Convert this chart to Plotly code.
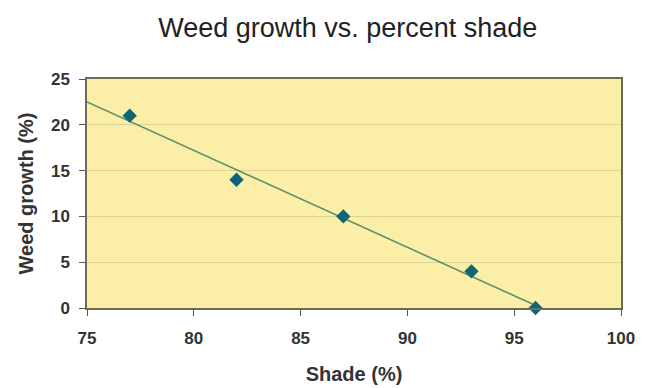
import numpy as np
import plotly.graph_objects as go

# Measured weed growth at each level of shade
shade_pct = [77, 82, 87, 93, 96]
weed_growth_pct = [21, 14, 10, 4, 0]

x_ticks = [75, 80, 85, 90, 95, 100]
y_ticks = [0, 5, 10, 15, 20, 25]

# Least-squares trend line across the full x range (clipped by the axes)
slope, intercept = np.polyfit(shade_pct, weed_growth_pct, 1)
trend_x = np.array([x_ticks[0], x_ticks[-1]])
trend_y = slope * trend_x + intercept

fig = go.Figure()
fig.add_trace(go.Scatter(
    x=trend_x, y=trend_y, mode="lines",
    line=dict(color="#5d8f6b", width=1.6),
    hoverinfo="skip", showlegend=False,
))
fig.add_trace(go.Scatter(
    x=shade_pct, y=weed_growth_pct, mode="markers",
    marker=dict(symbol="diamond", size=11, color="#0d6678"),
    cliponaxis=False, showlegend=False,
))

axis_font = dict(family="Liberation Sans, Arial, sans-serif", size=17, color="#333333")
title_font = dict(family="Liberation Sans, Arial, sans-serif", size=20, color="#333333")

fig.update_layout(
    width=650, height=388,
    margin=dict(l=87, r=29, t=79, b=80),
    paper_bgcolor="white",
    plot_bgcolor="#fbefa7",
    title=dict(
        text="Weed growth vs. percent shade",
        xref="container", x=0.535, xanchor="center",
        y=1 - 28 / 388, yanchor="middle",
        font=dict(family="Liberation Sans, Arial, sans-serif", size=27, color="#222222"),
    ),
    xaxis=dict(
        range=[75, 100], tickvals=x_ticks,
        ticktext=[f"<b>{v}</b>" for v in x_ticks],
        ticks="outside", ticklen=6, tickcolor="#5a5a48", tickwidth=1,
        ticklabelstandoff=8, automargin=False,
        showline=True, linecolor="#6b6b55", linewidth=1.5, mirror=True,
        showgrid=False, zeroline=False,
        tickfont=axis_font,
        title=dict(text="<b>Shade (%)</b>", font=title_font, standoff=20),
    ),
    yaxis=dict(
        range=[0, 25], tickvals=y_ticks,
        ticktext=[f"<b>{v}</b>" for v in y_ticks],
        ticks="outside", ticklen=6, tickcolor="#5a5a48", tickwidth=1,
        ticklabelstandoff=6, automargin=False,
        showline=True, linecolor="#6b6b55", linewidth=1.5, mirror=True,
        showgrid=True, gridcolor="#e0d099", gridwidth=1, zeroline=False,
        tickfont=axis_font,
        title=dict(text="<b>Weed growth (%)</b>", font=title_font, standoff=12),
    ),
)

fig.write_html("out.html")
